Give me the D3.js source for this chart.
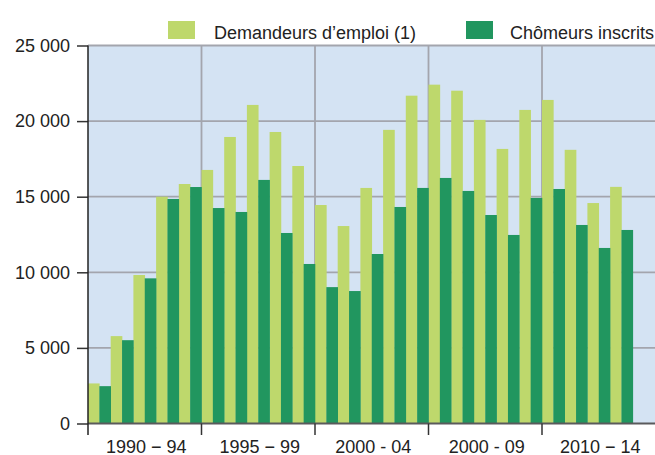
<!DOCTYPE html>
<html>
<head>
<meta charset="utf-8">
<script src="https://cdn.jsdelivr.net/npm/d3@7/dist/d3.min.js"></script>
<style>
  html, body { margin: 0; padding: 0; background: #fff; }
  svg { display: block; font-family: "Liberation Sans", Arial, sans-serif; }
</style>
</head>
<body>
<svg id="chart" width="655" height="455"></svg>
<script>
// ---- data ----
const years = [1990, 1991, 1992, 1993, 1994, 1995, 1996, 1997, 1998, 1999,
               2000, 2001, 2002, 2003, 2004, 2005, 2006, 2007, 2008, 2009,
               2010, 2011, 2012, 2013, 2014];
const demandeurs = [2650, 5780, 9820, 15000, 15840, 16770, 18950, 21070, 19280, 17030,
                    14450, 13060, 15580, 19420, 21680, 22410, 22010, 20080, 18160, 20740,
                    21400, 18100, 14580, 15650];
const chomeurs = [2470, 5510, 9600, 14850, 15640, 14250, 13990, 16110, 12600, 10550,
                  9020, 8760, 11210, 14320, 15580, 16240, 15380, 13790, 12470, 14920,
                  15510, 13130, 11610, 12800];
const groupLabels = ["1990 \u2212 94", "1995 \u2212 99", "2000 - 04", "2000 - 09", "2010 \u2212 14"];
const yTicks = [0, 5000, 10000, 15000, 20000, 25000];
const seriesNames = ["Demandeurs d\u2019emploi (1)", "Ch\u00f4meurs inscrits"];
const seriesColors = ["#bed86c", "#21965f"];

// ---- layout ----
const svg = d3.select("#chart");
const mLeft = 88, mRight = 655.5, mTop = 45.5, mBottom = 423.5;

const x = d3.scaleBand().domain(years).range([mLeft, mRight]).padding(0);
const xInner = d3.scaleBand().domain([0, 1]).range([0, x.bandwidth()]).padding(0);
const xGroup = d3.scaleBand().domain(groupLabels).range([mLeft, mRight]).padding(0);
const y = d3.scaleLinear().domain([0, 25000]).range([mBottom, mTop]);

const fmt = d3.formatLocale({decimal: ",", thousands: " ", grouping: [3], currency: ["", ""]}).format(",d");

// background
svg.append("rect").attr("x", mLeft).attr("y", mTop).attr("width", mRight - mLeft).attr("height", mBottom - mTop)
  .attr("fill", "#d4e3f3");

// horizontal gridlines
svg.append("g").selectAll("line").data(yTicks.filter(d => d > 0)).join("line")
  .attr("x1", mLeft).attr("x2", mRight)
  .attr("y1", d => y(d)).attr("y2", d => y(d))
  .attr("stroke", "#a3a5ad").attr("stroke-width", 1.8);

// vertical gridlines at group boundaries
svg.append("g").selectAll("line").data(groupLabels.slice(1)).join("line")
  .attr("x1", d => xGroup(d)).attr("x2", d => xGroup(d))
  .attr("y1", mTop).attr("y2", mBottom)
  .attr("stroke", "#a3a5ad").attr("stroke-width", 1.8);

// bars
const series = [demandeurs, chomeurs];
series.forEach((vals, si) => {
  svg.append("g").selectAll("rect").data(vals).join("rect")
    .attr("x", (d, i) => x(years[i]) + xInner(si))
    .attr("width", xInner.bandwidth() + 0.3)
    .attr("y", d => y(d))
    .attr("height", d => mBottom - y(d))
    .attr("fill", seriesColors[si]);
});

// baseline
svg.append("line").attr("x1", mLeft).attr("x2", mRight).attr("y1", mBottom).attr("y2", mBottom)
  .attr("stroke", "#5a5a5c").attr("stroke-width", 2);

// y axis
const yAxis = d3.axisLeft(y).tickValues(yTicks).tickFormat(fmt).tickSize(11).tickPadding(7);
const gy = svg.append("g").attr("transform", `translate(${mLeft},0)`).call(yAxis);
gy.select(".domain").remove();
gy.selectAll(".tick line").attr("stroke", "#333").attr("stroke-width", 1.5);
gy.selectAll(".tick text").attr("font-size", 18).attr("fill", "#222")
  .attr("font-family", "'Liberation Sans', Arial, sans-serif");
svg.append("line").attr("x1", mLeft).attr("x2", mLeft).attr("y1", mTop).attr("y2", 435)
  .attr("stroke", "#222").attr("stroke-width", 1.5);

// x axis (group labels)
const xAxis = d3.axisBottom(xGroup).tickSize(0).tickPadding(0);
const gx = svg.append("g").attr("transform", `translate(0,${mBottom})`).call(xAxis);
gx.select(".domain").remove();
gx.selectAll(".tick text").attr("font-size", 18).attr("fill", "#222")
  .attr("font-family", "'Liberation Sans', Arial, sans-serif")
  .attr("dy", null).attr("y", 29).attr("dx", 1.5);
// boundary ticks
svg.append("g").selectAll("line").data(groupLabels.slice(1)).join("line")
  .attr("x1", d => xGroup(d)).attr("x2", d => xGroup(d))
  .attr("y1", mBottom).attr("y2", 435)
  .attr("stroke", "#333").attr("stroke-width", 1.5);

// legend
const legend = svg.append("g");
const legX = [168, 466];
const legTextX = [214, 510];
seriesNames.forEach((name, i) => {
  legend.append("rect").attr("x", legX[i]).attr("y", 21).attr("width", 27).attr("height", 18)
    .attr("fill", seriesColors[i]);
  legend.append("text").attr("x", legTextX[i]).attr("y", 38.5)
    .attr("font-size", 18).attr("fill", "#222").text(name);
});
</script>
</body>
</html>
